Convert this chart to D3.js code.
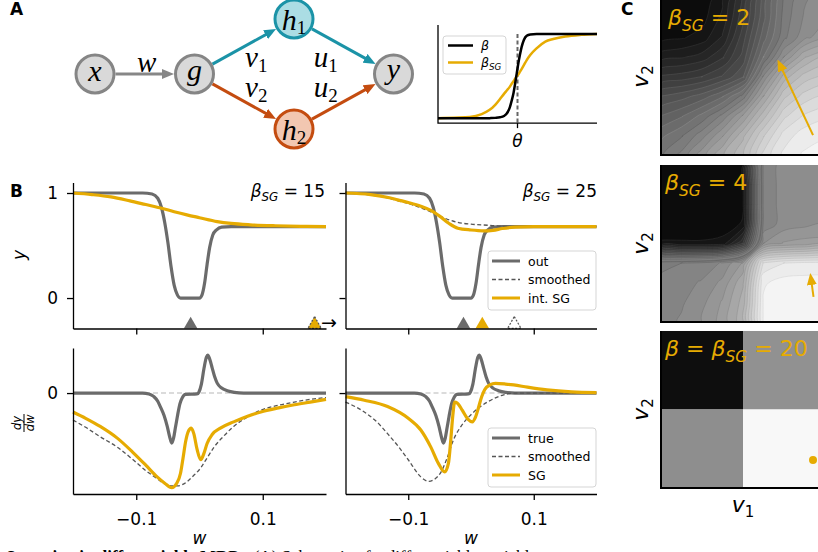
<!DOCTYPE html>
<html>
<head>
<meta charset="utf-8">
<script src="https://cdn.jsdelivr.net/npm/d3@7/dist/d3.min.js"></script>
<style>
	html, body { margin: 0; background: #fff; overflow: hidden; }
	svg { display: block; font-family: 'DejaVu Sans', sans-serif; }
</style>
</head>
<body>
<svg id="fig" width="818" height="552"></svg>
<script>
// ---- values ----

// A: network schematic
const nodeKeys = ['x', 'g', 'h1', 'h2', 'y']
const nodeCol = [0, 1, 2, 2, 3]
const nodeRow = [0, 0, -1, 1, 0]
const edges = [['x', 'g', 'w'], ['g', 'h1', 'v1'], ['g', 'h2', 'v2'], ['h1', 'y', 'u1'], ['h2', 'y', 'u2']]

// A inset: sigmoid with beta and beta_SG (theta at 0)
const insetX = [-1, -0.8, -0.6, -0.45, -0.35, -0.28, -0.22, -0.17, -0.135, -0.1, -0.073, -0.05, -0.03, -0.01, 0.01, 0.03, 0.053, 0.08, 0.116, 0.16, 0.24, 0.35, 0.45, 0.6, 0.8, 1]
const insetBeta = [0, 0, 0, 0, 0.002, 0.005, 0.012, 0.028, 0.056, 0.12, 0.21, 0.3, 0.41, 0.53, 0.65, 0.75, 0.85, 0.93, 0.98, 0.995, 1, 1, 1, 1, 1, 1]
const insetBetaSG = [0, 0.008, 0.016, 0.05, 0.1, 0.16, 0.23, 0.29, 0.33, 0.37, 0.41, 0.44, 0.47, 0.5, 0.52, 0.55, 0.585, 0.63, 0.69, 0.75, 0.83, 0.91, 0.94, 0.97, 0.99, 1]

// B top: output y(w)
const outY = [[-0.2, 1], [-0.09, 1], [-0.075, 0.99], [-0.066, 0.95], [-0.06, 0.86], [-0.055, 0.72], [-0.05, 0.53], [-0.045, 0.3], [-0.04, 0.12], [-0.035, 0.03], [-0.03, 0], [0, 0], [0.004, 0.03], [0.008, 0.14], [0.012, 0.32], [0.016, 0.48], [0.021, 0.6], [0.027, 0.65], [0.035, 0.675], [0.05, 0.68], [0.2, 0.68]]
const sg15Y = [[-0.2, 1], [-0.17, 0.985], [-0.14, 0.963], [-0.11, 0.925], [-0.085, 0.89], [-0.06, 0.855], [-0.04, 0.822], [-0.02, 0.792], [0, 0.765], [0.028, 0.728], [0.05, 0.71], [0.08, 0.697], [0.12, 0.688], [0.16, 0.683], [0.2, 0.68]]
const smooth25Y = [[-0.2, 1], [-0.16, 0.98], [-0.13, 0.95], [-0.117, 0.927], [-0.1, 0.9], [-0.08, 0.86], [-0.064, 0.82], [-0.05, 0.78], [-0.035, 0.745], [-0.021, 0.72], [0, 0.703], [0.027, 0.693], [0.045, 0.685], [0.07, 0.68], [0.2, 0.68]]
const sg25Y = [[-0.2, 1], [-0.16, 0.985], [-0.13, 0.955], [-0.117, 0.935], [-0.1, 0.91], [-0.08, 0.875], [-0.064, 0.835], [-0.05, 0.78], [-0.035, 0.71], [-0.021, 0.665], [0, 0.648], [0.02, 0.64], [0.035, 0.645], [0.05, 0.662], [0.07, 0.675], [0.1, 0.68], [0.2, 0.68]]
// minima markers [kind, w]
const optimaSG15 = [['out', -0.014], ['sg', 0.182], ['smoothed', 0.182]]
const optimaSG25 = [['out', -0.012], ['sg', 0.018], ['smoothed', 0.069]]

// B bottom: dy/dw
const trueGrad = [[-0.2, 0], [-0.09, 0], [-0.08, -0.01], [-0.072, -0.04], [-0.066, -0.09], [-0.062, -0.15], [-0.056, -0.25], [-0.051, -0.37], [-0.047, -0.49], [-0.044, -0.555], [-0.041, -0.5], [-0.038, -0.38], [-0.035, -0.26], [-0.031, -0.12], [-0.027, -0.05], [-0.022, -0.015], [-0.004, -0.01], [-0.001, 0.01], [0.003, 0.1], [0.007, 0.27], [0.011, 0.4], [0.013, 0.42], [0.016, 0.38], [0.02, 0.28], [0.024, 0.18], [0.028, 0.11], [0.035, 0.055], [0.044, 0.026], [0.055, 0.008], [0.07, 0], [0.2, 0]]
const smooth15Grad = [[-0.2, -0.3], [-0.18, -0.38], [-0.157, -0.485], [-0.13, -0.6], [-0.105, -0.74], [-0.085, -0.86], [-0.067, -0.95], [-0.057, -1.0], [-0.045, -1.03], [-0.035, -1.03], [-0.02, -0.985], [-0.01, -0.92], [0.002, -0.83], [0.012, -0.72], [0.023, -0.6], [0.038, -0.48], [0.054, -0.37], [0.075, -0.27], [0.097, -0.19], [0.125, -0.135], [0.15, -0.1], [0.175, -0.07], [0.2, -0.05]]
const sg15Grad = [[-0.2, -0.21], [-0.18, -0.28], [-0.157, -0.37], [-0.13, -0.5], [-0.105, -0.66], [-0.085, -0.8], [-0.067, -0.93], [-0.055, -1.0], [-0.044, -1.05], [-0.036, -1.0], [-0.03, -0.89], [-0.026, -0.72], [-0.022, -0.54], [-0.018, -0.43], [-0.013, -0.39], [-0.009, -0.45], [-0.004, -0.62], [0.002, -0.74], [0.007, -0.67], [0.012, -0.56], [0.02, -0.46], [0.033, -0.39], [0.054, -0.32], [0.075, -0.26], [0.097, -0.21], [0.125, -0.165], [0.15, -0.13], [0.175, -0.1], [0.2, -0.07]]
const smooth25Grad = [[-0.2, -0.1], [-0.17, -0.21], [-0.15, -0.32], [-0.133, -0.45], [-0.115, -0.6], [-0.1, -0.74], [-0.08, -0.93], [-0.067, -0.98], [-0.057, -0.95], [-0.048, -0.88], [-0.038, -0.72], [-0.028, -0.52], [-0.015, -0.36], [0, -0.24], [0.013, -0.16], [0.026, -0.1], [0.04, -0.05], [0.052, -0.02], [0.07, 0], [0.2, 0]]
const sg25Grad = [[-0.2, -0.04], [-0.17, -0.08], [-0.133, -0.15], [-0.1, -0.28], [-0.08, -0.41], [-0.064, -0.6], [-0.052, -0.78], [-0.042, -0.875], [-0.036, -0.78], [-0.032, -0.5], [-0.029, -0.25], [-0.026, -0.1], [-0.022, -0.11], [-0.014, -0.19], [-0.005, -0.29], [0.002, -0.32], [0.007, -0.27], [0.012, -0.16], [0.017, -0.04], [0.022, 0.04], [0.03, 0.09], [0.039, 0.107], [0.055, 0.1], [0.068, 0.09], [0.09, 0.065], [0.121, 0.035], [0.16, 0.013], [0.2, 0.005]]

const wTicks = [-0.1, 0.1]
const outTicks = [0, 1]
const gradTicks = [0]

// C: loss landscapes over (v1, v2), rows from top (v2 = 1) to bottom (v2 = 0)
const landscapeSG2 = [
	[0.02, 0.02, 0.03, 0.08, 0.2, 0.35, 0.48, 0.54, 0.56],
	[0.02, 0.02, 0.04, 0.1, 0.22, 0.36, 0.49, 0.55, 0.57],
	[0.04, 0.05, 0.07, 0.13, 0.25, 0.39, 0.5, 0.57, 0.6],
	[0.11, 0.12, 0.14, 0.19, 0.28, 0.44, 0.58, 0.68, 0.72],
	[0.2, 0.21, 0.23, 0.27, 0.33, 0.55, 0.7, 0.77, 0.8],
	[0.3, 0.32, 0.35, 0.4, 0.49, 0.65, 0.78, 0.84, 0.86],
	[0.37, 0.4, 0.45, 0.52, 0.62, 0.74, 0.85, 0.9, 0.92],
	[0.43, 0.47, 0.53, 0.61, 0.71, 0.82, 0.91, 0.95, 0.96],
	[0.47, 0.52, 0.6, 0.68, 0.75, 0.87, 0.94, 0.97, 0.98],
]
const landscapeSG4 = [
	[0.03, 0.03, 0.03, 0.03, 0.05, 0.52, 0.56, 0.57, 0.57],
	[0.03, 0.03, 0.03, 0.03, 0.05, 0.52, 0.56, 0.57, 0.57],
	[0.03, 0.03, 0.03, 0.03, 0.05, 0.52, 0.56, 0.57, 0.57],
	[0.03, 0.03, 0.03, 0.03, 0.06, 0.52, 0.56, 0.57, 0.58],
	[0.06, 0.06, 0.06, 0.07, 0.2, 0.58, 0.62, 0.63, 0.63],
	[0.5, 0.51, 0.52, 0.55, 0.62, 0.9, 0.93, 0.94, 0.94],
	[0.52, 0.53, 0.55, 0.59, 0.68, 0.96, 0.98, 0.98, 0.98],
	[0.53, 0.54, 0.57, 0.62, 0.7, 0.97, 0.98, 0.98, 0.99],
	[0.53, 0.55, 0.58, 0.63, 0.71, 0.97, 0.98, 0.99, 0.99],
]
const quadEdges = [0, 0.5, 1]
const landscape20 = [[0.03, 0.56], [0.55, 0.98]]
// gold markers in C: [v1, v2]
const stepSG2 = [[0.927, 0.127], [0.726, 0.573]]
const stepSG4 = [[0.93, 0.16], [0.915, 0.274]]
const pointSG20 = [0.927, 0.178]

// ---- drawing ----
const svg = d3.select('#fig')
const defs = svg.append('defs')
const gold = '#e6ab02'
const grayLine = '#6b6b6b'
const dashGray = '#555'
const teal = '#1b93a7'
const rust = '#c44c10'

function arrowMarker(id, color, w, h, back) {
	defs.append('marker').attr('id', id).attr('markerUnits', 'userSpaceOnUse')
		.attr('viewBox', `0 0 ${w} ${h}`).attr('markerWidth', w).attr('markerHeight', h)
		.attr('refX', w - back).attr('refY', h / 2).attr('orient', 'auto')
		.append('path').attr('d', `M0,0L${w},${h / 2}L0,${h}z`).attr('fill', color)
}
arrowMarker('arr-gray', '#878787', 12, 10, 6)
arrowMarker('arr-teal', teal, 12, 10, 6)
arrowMarker('arr-rust', rust, 12, 10, 6)
arrowMarker('arr-gold', gold, 12, 10, 6)

function panelLetter(t, x, y) {
	svg.append('text').attr('x', x).attr('y', y).attr('font-weight', 'bold').attr('font-size', 17).text(t)
}

// beta label like  β_SG = 15
function betaText(sel, parts, size) {
	parts.forEach(([txt, kind]) => {
		const t = sel.append('tspan').text(txt)
		if (kind === 'it') t.attr('font-style', 'italic')
		if (kind === 'sub') t.attr('font-style', 'italic').attr('font-size', size * 0.7).attr('dy', size * 0.25)
		if (kind === 'up') t.attr('dy', -size * 0.25)
	})
	return sel
}

// ---------- A ----------
panelLetter('A', 10, 15)
const col = d3.scaleLinear([0, 3], [95, 393.5])
const row = d3.scaleLinear([-1, 1], [19, 129])
const pos = k => [col(nodeCol[nodeKeys.indexOf(k)]), row(nodeRow[nodeKeys.indexOf(k)])]
const nodeFill = {x: '#d9d9d9', g: '#d9d9d9', y: '#d9d9d9', h1: '#abdde4', h2: '#f2c7b1'}
const nodeStroke = {x: '#858585', g: '#858585', y: '#858585', h1: teal, h2: rust}
const labelOffset = {w: [2, -2], v1: [12, 20.5], v2: [12, -4.5], u1: [-18, 20.5], u2: [-18, -4.5]}
const R = 20.5

edges.forEach(([s, t, lab]) => {
	const [x1, y1] = pos(s), [x2, y2] = pos(t)
	const len = Math.hypot(x2 - x1, y2 - y1), ux = (x2 - x1) / len, uy = (y2 - y1) / len
	const key = s === 'h1' || t === 'h1' ? 'teal' : s === 'h2' || t === 'h2' ? 'rust' : 'gray'
	const color = {teal, rust, gray: '#878787'}[key]
	svg.append('line')
		.attr('x1', x1 + ux * R).attr('y1', y1 + uy * R)
		.attr('x2', x2 - ux * (R + 6)).attr('y2', y2 - uy * (R + 6))
		.attr('stroke', color).attr('stroke-width', 3).attr('marker-end', `url(#arr-${key})`)
	const [dx, dy] = labelOffset[lab]
	const lt = svg.append('text').attr('x', (x1 + x2) / 2 + dx).attr('y', (y1 + y2) / 2 + dy)
		.attr('text-anchor', 'middle').attr('font-family', 'Liberation Serif, serif').attr('font-size', 29)
	lt.append('tspan').attr('font-style', 'italic').text(lab[0])
	if (lab[1]) lt.append('tspan').attr('font-size', 19).attr('dy', 5).text(lab[1])
})

const baseShift = {x: 7, g: 6, h1: 11, h2: 11, y: 5}
nodeKeys.forEach(k => {
	const [cx, cy] = pos(k)
	svg.append('circle').attr('cx', cx).attr('cy', cy).attr('r', 19)
		.attr('fill', nodeFill[k]).attr('stroke', nodeStroke[k]).attr('stroke-width', 3)
	const t = svg.append('text').attr('x', cx).attr('y', cy + baseShift[k]).attr('text-anchor', 'middle')
		.attr('font-family', 'Liberation Serif, serif').attr('font-size', 30)
	t.append('tspan').attr('font-style', 'italic').text(k[0])
	if (k[1]) t.append('tspan').attr('font-size', 19).attr('dy', 4).text(k[1])
})

// inset
const xIn = d3.scaleLinear([-1, 1], [438, 597])
const yIn = d3.scaleLinear([0, 1], [118.3, 34])
const inLine = d3.line().x((d, i) => xIn(insetX[i])).y(d => yIn(d)).curve(d3.curveMonotoneX)
svg.append('line').attr('x1', xIn(0)).attr('x2', xIn(0)).attr('y1', yIn(-0.05)).attr('y2', yIn(1))
	.attr('stroke', '#666').attr('stroke-width', 2).attr('stroke-dasharray', '4,2.5')
svg.append('path').attr('d', inLine(insetBetaSG)).attr('fill', 'none').attr('stroke', gold).attr('stroke-width', 2.5)
svg.append('path').attr('d', inLine(insetBeta)).attr('fill', 'none').attr('stroke', '#000').attr('stroke-width', 2.5)
svg.append('path').attr('d', `M${xIn(-1)},${yIn(1.107)}V${yIn(-0.057)}H${xIn(1)}`)
	.attr('fill', 'none').attr('stroke', '#000').attr('stroke-width', 1.3)
svg.append('line').attr('x1', xIn(0)).attr('x2', xIn(0)).attr('y1', yIn(-0.057)).attr('y2', yIn(-0.057) + 5)
	.attr('stroke', '#000').attr('stroke-width', 1.3)
svg.append('text').attr('x', xIn(0)).attr('y', 147).attr('text-anchor', 'middle')
	.attr('font-size', 17).attr('font-style', 'italic').text('θ')
const inLeg = svg.append('g').attr('transform', 'translate(443,36)')
inLeg.append('rect').attr('width', 63).attr('height', 38).attr('rx', 3)
	.attr('fill', '#fff').attr('fill-opacity', 0.85).attr('stroke', '#d5d5d5')
;[['#000', [['β', 'it']]], [gold, [['β', 'it'], ['SG', 'sub']]]].forEach(([c, parts], i) => {
	const y = 9.5 + i * 17
	inLeg.append('line').attr('x1', 5).attr('x2', 30).attr('y1', y).attr('y2', y).attr('stroke', c).attr('stroke-width', 2.5)
	betaText(inLeg.append('text').attr('x', 38).attr('y', y + 4.5).attr('font-size', 12.5), parts, 12.5)
})

// ---------- B ----------
panelLetter('B', 10, 197)
const xLeft = d3.scaleLinear([-0.2, 0.2], [73, 326])
const xRight = d3.scaleLinear([-0.2, 0.2], [345.5, 596.5])
const yOut = d3.scaleLinear([-0.29, 1.1], [328.5, 182.5])
const yGrad = d3.scaleLinear([-1.12, 0.5], [494, 348])

function axes(x, y, yTicks, yLabels, xLabels) {
	const fmt = d3.format('.1f')
	const bx = svg.append('g').attr('transform', `translate(0,${y.range()[0]})`)
		.call(d3.axisBottom(x).tickValues(wTicks).tickSize(6).tickPadding(13).tickSizeOuter(0)
			.tickFormat(xLabels ? fmt : () => ''))
	const ly = svg.append('g').attr('transform', `translate(${x.range()[0]},0)`)
		.call(d3.axisLeft(y).tickValues(yTicks).tickSize(6).tickPadding(9).tickSizeOuter(0)
			.tickFormat(yLabels ? d3.format('d') : () => ''))
	;[bx, ly].forEach(a => {
		a.attr('font-size', 17).attr('font-family', 'DejaVu Sans, sans-serif')
		a.selectAll('.domain, .tick line').attr('stroke', '#000').attr('stroke-width', 1.3)
		a.selectAll('text').attr('fill', '#000')
	})
}

function curve(x, y, data, color, width, dash) {
	const line = d3.line().x(d => x(d[0])).y(d => y(d[1])).curve(d3.curveMonotoneX)
	svg.append('path').attr('d', line(data)).attr('fill', 'none').attr('stroke', color)
		.attr('stroke-width', width).attr('stroke-dasharray', dash || null)
		.attr('stroke-linejoin', 'round')
}

function optima(x, list) {
	const tri = d3.symbol(d3.symbolTriangle, 80)()
	const yb = yOut.range()[0] - 4
	list.forEach(([kind, w]) => {
		const p = svg.append('path').attr('d', tri).attr('transform', `translate(${x(w)},${yb})`)
		if (kind === 'out') p.attr('fill', grayLine)
		if (kind === 'sg') p.attr('fill', gold)
		if (kind === 'smoothed') p.attr('fill', 'none').attr('stroke', dashGray).attr('stroke-width', 1.2).attr('stroke-dasharray', '2,1.5')
	})
}

function legend(x0, y0, entries) {
	const g = svg.append('g').attr('transform', `translate(${x0},${y0})`)
	g.append('rect').attr('width', 108).attr('height', 59).attr('rx', 3)
		.attr('fill', '#fff').attr('fill-opacity', 0.85).attr('stroke', '#d5d5d5')
	entries.forEach(([label, kind], i) => {
		const y = 10 + i * 18.5
		const l = g.append('line').attr('x1', 4).attr('x2', 32).attr('y1', y).attr('y2', y)
		if (kind === 'solid') l.attr('stroke', grayLine).attr('stroke-width', 3)
		if (kind === 'dashed') l.attr('stroke', dashGray).attr('stroke-width', 1.3).attr('stroke-dasharray', '4,2.5')
		if (kind === 'gold') l.attr('stroke', gold).attr('stroke-width', 3)
		g.append('text').attr('x', 40).attr('y', y + 4.5).attr('font-size', 12.5).text(label)
	})
}

// top left
curve(xLeft, yOut, outY, grayLine, 3.2)
curve(xLeft, yOut, sg15Y, gold, 3.2)
optima(xLeft, optimaSG15)
svg.append('text').attr('x', xLeft(0.2) - 5).attr('y', yOut.range()[0] + 0.5).attr('font-size', 19).text('→')
axes(xLeft, yOut, outTicks, true, false)
betaText(svg.append('text').attr('x', 325).attr('y', 197).attr('text-anchor', 'end').attr('font-size', 17),
	[['β', 'it'], ['SG', 'sub'], [' = 15', 'up']], 17)
svg.append('text').attr('transform', 'translate(25,255) rotate(-90)').attr('text-anchor', 'middle')
	.attr('font-size', 17).attr('font-style', 'italic').text('y')

// top right
curve(xRight, yOut, outY, grayLine, 3.2)
curve(xRight, yOut, smooth25Y, dashGray, 1.3, '4,2.5')
curve(xRight, yOut, sg25Y, gold, 3.2)
optima(xRight, optimaSG25)
axes(xRight, yOut, outTicks, false, false)
betaText(svg.append('text').attr('x', 597).attr('y', 197).attr('text-anchor', 'end').attr('font-size', 17),
	[['β', 'it'], ['SG', 'sub'], [' = 25', 'up']], 17)
legend(488, 251, [['out', 'solid'], ['smoothed', 'dashed'], ['int. SG', 'gold']])

// bottom panels
;[[xLeft, smooth15Grad, sg15Grad, true], [xRight, smooth25Grad, sg25Grad, false]].forEach(([x, sm, sg, lab]) => {
	svg.append('line').attr('x1', x.range()[0]).attr('x2', x.range()[1]).attr('y1', yGrad(0)).attr('y2', yGrad(0))
		.attr('stroke', '#cfcfcf').attr('stroke-width', 1.5).attr('stroke-dasharray', '5,3')
	curve(x, yGrad, trueGrad, grayLine, 3.2)
	curve(x, yGrad, sm, dashGray, 1.3, '4,2.5')
	curve(x, yGrad, sg, gold, 3.2)
	axes(x, yGrad, gradTicks, lab, true)
	svg.append('text').attr('x', (x.range()[0] + x.range()[1]) / 2).attr('y', 544).attr('text-anchor', 'middle')
		.attr('font-size', 17).attr('font-style', 'italic').text('w')
})
legend(488, 428, [['true', 'solid'], ['smoothed', 'dashed'], ['SG', 'gold']])

const frac = svg.append('g').attr('transform', 'translate(24,423) rotate(-90)')
	.attr('font-size', 11.5).attr('font-style', 'italic').attr('text-anchor', 'middle')
frac.append('text').attr('y', -3).text('dy')
frac.append('line').attr('x1', -9).attr('x2', 9).attr('stroke', '#000').attr('stroke-width', 1)
frac.append('text').attr('y', 10).text('dw')

// ---------- C ----------
panelLetter('C', 621, 15)
const cx = d3.scaleLinear([0, 1], [661, 825])
const cH = 157
const tops = [-2, 165, 331]
const shade = d3.scaleLinear([0, 1], ['#070707', '#fdfdfd'])
const levels = d3.range(0.02, 1, 0.035)

function frame(top, id) {
	defs.append('clipPath').attr('id', id).append('rect')
		.attr('x', cx(0)).attr('y', top).attr('width', cx(1) - cx(0)).attr('height', cH)
	return svg.append('g').attr('clip-path', `url(#${id})`)
}

function landscape(values, top, id) {
	const n = values.length
	const cy = d3.scaleLinear([0, 1], [top + cH, top])
	const g = frame(top, id)
	const flat = values.flat()
	const toXY = ([i, j]) => [cx((i - 0.5) / (n - 1)), cy(1 - (j - 0.5) / (n - 1))]
	const ring = d3.line().curve(d3.curveCatmullRomClosed.alpha(0))
	g.append('rect').attr('x', cx(0)).attr('y', top).attr('width', cx(1) - cx(0)).attr('height', cH)
		.attr('fill', shade(d3.min(flat)))
	g.selectAll('path').data(d3.contours().size([n, n]).thresholds(levels)(flat)).join('path')
		.attr('d', c => c.coordinates.map(poly => poly.map(r => ring(r.slice(0, -1).map(toXY))).join('')).join(''))
		.attr('fill', c => shade(c.value))
		.attr('stroke', c => shade(c.value < 0.45 ? c.value + 0.1 : c.value - 0.12))
		.attr('stroke-width', 0.6)
	return cy
}

function cAxes(top) {
	svg.append('path').attr('d', `M${cx(0)},${top}V${top + cH}H${cx(1)}`)
		.attr('fill', 'none').attr('stroke', '#000').attr('stroke-width', 2)
	const t = svg.append('text').attr('transform', `translate(648,${top + cH / 2}) rotate(-90)`)
		.attr('text-anchor', 'middle').attr('font-size', 22)
	t.append('tspan').attr('font-style', 'italic').text('v')
	t.append('tspan').attr('font-size', 15).attr('dy', 5).text('2')
}

function stepArrow(cy, pts) {
	svg.append('line').attr('x1', cx(pts[0][0])).attr('y1', cy(pts[0][1]))
		.attr('x2', cx(pts[1][0])).attr('y2', cy(pts[1][1]))
		.attr('stroke', gold).attr('stroke-width', 2).attr('marker-end', 'url(#arr-gold)')
}

const cy1 = landscape(landscapeSG2, tops[0], 'c1')
stepArrow(cy1, stepSG2)
cAxes(tops[0])
betaText(svg.append('text').attr('x', 668).attr('y', 25).attr('font-size', 22).attr('fill', gold),
	[['β', 'it'], ['SG', 'sub'], [' = 2', 'up']], 22)

const cy2 = landscape(landscapeSG4, tops[1], 'c2')
stepArrow(cy2, stepSG4)
cAxes(tops[1])
betaText(svg.append('text').attr('x', 665).attr('y', 190).attr('font-size', 22).attr('fill', gold),
	[['β', 'it'], ['SG', 'sub'], [' = 4', 'up']], 22)

const cy3 = d3.scaleLinear([0, 1], [tops[2] + cH, tops[2]])
const g3 = frame(tops[2], 'c3')
landscape20.forEach((r, i) => r.forEach((v, j) => {
	g3.append('rect').attr('x', cx(quadEdges[j])).attr('width', cx(quadEdges[j + 1]) - cx(quadEdges[j]))
		.attr('y', cy3(1 - quadEdges[i])).attr('height', cy3(1 - quadEdges[i + 1]) - cy3(1 - quadEdges[i]))
		.attr('fill', shade(v))
}))
svg.append('circle').attr('cx', cx(pointSG20[0])).attr('cy', cy3(pointSG20[1])).attr('r', 4).attr('fill', gold)
cAxes(tops[2])
betaText(svg.append('text').attr('x', 665).attr('y', 356).attr('font-size', 22).attr('fill', gold),
	[['β', 'it'], [' = ', null], ['β', 'it'], ['SG', 'sub'], [' = 20', 'up']], 22)

const v1 = svg.append('text').attr('x', (cx(0) + cx(1)) / 2).attr('y', 512).attr('text-anchor', 'middle').attr('font-size', 22)
v1.append('tspan').attr('font-style', 'italic').text('v')
v1.append('tspan').attr('font-size', 15).attr('dy', 5).text('1')

// caption, cut by the page edge
const cap = svg.append('text').attr('x', 8).attr('y', 562).attr('font-family', 'Liberation Serif, serif').attr('font-size', 17)
cap.append('tspan').attr('font-weight', 'bold').text('Learning in differentiable MDPs.')
cap.append('tspan').text(' (A) Schematic of a differentiable variable')
</script>
</body>
</html>
